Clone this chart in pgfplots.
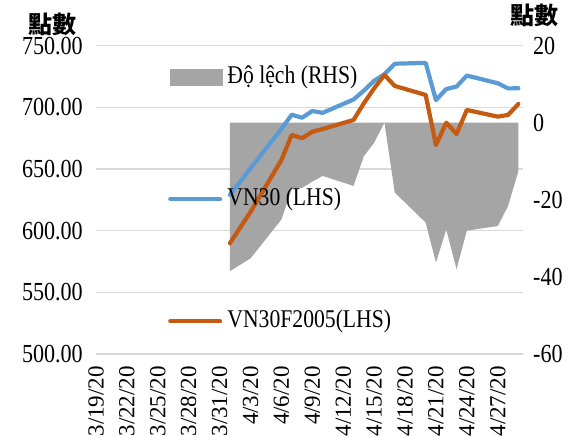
\documentclass[border=0pt]{standalone}
\usepackage{pgfplots}
\pgfplotsset{compat=1.18}
\usepackage{pgfplotstable}
\usepackage{fontspec}
\setmainfont{Liberation Serif}
\newfontfamily\tickfont{Liberation Serif}[FakeStretch=0.85]
\newfontfamily\xfont{Liberation Serif}
\newfontfamily\cjk{Noto Sans CJK TC}
\definecolor{vnblue}{HTML}{5B9BD5}
\definecolor{vnorange}{HTML}{C55A11}
\definecolor{devgray}{HTML}{A5A5A5}
\definecolor{gridgray}{HTML}{D9D9D9}

\pgfplotstableread{
d vn30 fut dev
13 629.0 589.8 -38.5
15 650.5 615.2 -35.2
18 682.5 657.3 -25.1
19 694.0 677.6 -17.3
20 691.5 674.9 -16.9
21 697.0 680.2 -15.3
22 695.5 682.4 -13.8
25 706.3 689.7 -16.4
26 713.5 703.2 -8.7
27 721.5 715.4 -5.2
28 726.8 726.2 0.0
29 735.3 717.3 -18.1
32 736.0 710.0 -25.9
33 705.8 669.4 -36.3
34 714.8 687.5 -27.7
35 716.8 678.4 -38.0
36 725.7 697.8 -28.0
39 719.5 692.4 -26.8
40 715.3 693.8 -21.6
41 715.4 702.7 -12.6
}\data

\begin{document}
\begin{tikzpicture}
\useasboundingbox (-96pt,-83pt) rectangle (486pt,354pt);
\pgfplotsset{base/.style={scale only axis, width=427pt, height=308.4pt,
  xmin=0, xmax=41.45, axis line style={draw=none}, major tick length=0pt}}

% grid, left labels, x labels
\begin{axis}[base, ymin=500, ymax=750,
  ytick={500,550,...,750},
  yticklabels={500.00,550.00,600.00,650.00,700.00,750.00},
  ymajorgrids, major grid style={gridgray, line width=1.2pt},
  xtick={0,3,...,39},
  xticklabels={3/19/20,3/22/20,3/25/20,3/28/20,3/31/20,4/3/20,4/6/20,4/9/20,4/12/20,4/15/20,4/18/20,4/21/20,4/24/20,4/27/20},
  xticklabel style={rotate=90, anchor=east, inner sep=0pt, xshift=-12pt, font=\xfont\fontsize{23}{23}\selectfont},
  yticklabel style={anchor=east, inner sep=0pt, xshift=-13pt, font=\tickfont\fontsize{26}{26}\selectfont}]
\addplot[draw=none] coordinates {(0,500)};
\end{axis}

% deviation area, right labels
\begin{axis}[base, ymin=-60, ymax=20,
  ytick={-60,-40,...,20}, yticklabels={-60,-40,-20,0,20},
  yticklabel pos=right, xtick=\empty,
  yticklabel style={anchor=west, inner sep=0pt, xshift=10pt, font=\tickfont\fontsize{26}{26}\selectfont}]
\addplot[fill=devgray, draw=none] table[x=d, y=dev]{\data} \closedcycle;
\end{axis}

% lines and legend
\begin{axis}[base, ymin=500, ymax=750, ticks=none,
  legend cell align=left,
  legend style={at={(axis description cs:0.1686,0.937)}, anchor=north west,
    draw=none, fill=none, inner sep=0pt, row sep=98pt,
    font=\tickfont\fontsize{25.5}{25.5}\selectfont,
    nodes={inner sep=0pt, text height=18pt, text depth=6pt},
    /tikz/every odd column/.append style={column sep=5pt}}]
\addlegendimage{legend image code/.code={\fill[devgray] (2pt,-8pt) rectangle (54pt,8pt);}}
\addlegendentry{Độ lệch (RHS)}
\addplot[vnblue, line width=4.2pt, line join=round, line cap=round,
  legend image code/.code={\draw[line width=4.2pt, line cap=round] (2.1pt,0pt) -- (51.9pt,0pt);}]
  table[x=d, y=vn30]{\data};
\addlegendentry{VN30 (LHS)}
\addplot[vnorange, line width=4.2pt, line join=round, line cap=round,
  legend image code/.code={\draw[line width=4.2pt, line cap=round] (2.1pt,0pt) -- (51.9pt,0pt);}]
  table[x=d, y=fut]{\data};
\addlegendentry{VN30F2005(LHS)}
\end{axis}

\node[font=\cjk\bfseries\fontsize{24}{24}\selectfont] at (-43.5pt,330pt) {點數};
\node[font=\cjk\bfseries\fontsize{24}{24}\selectfont] at (438pt,339pt) {點數};
\end{tikzpicture}
\end{document}
